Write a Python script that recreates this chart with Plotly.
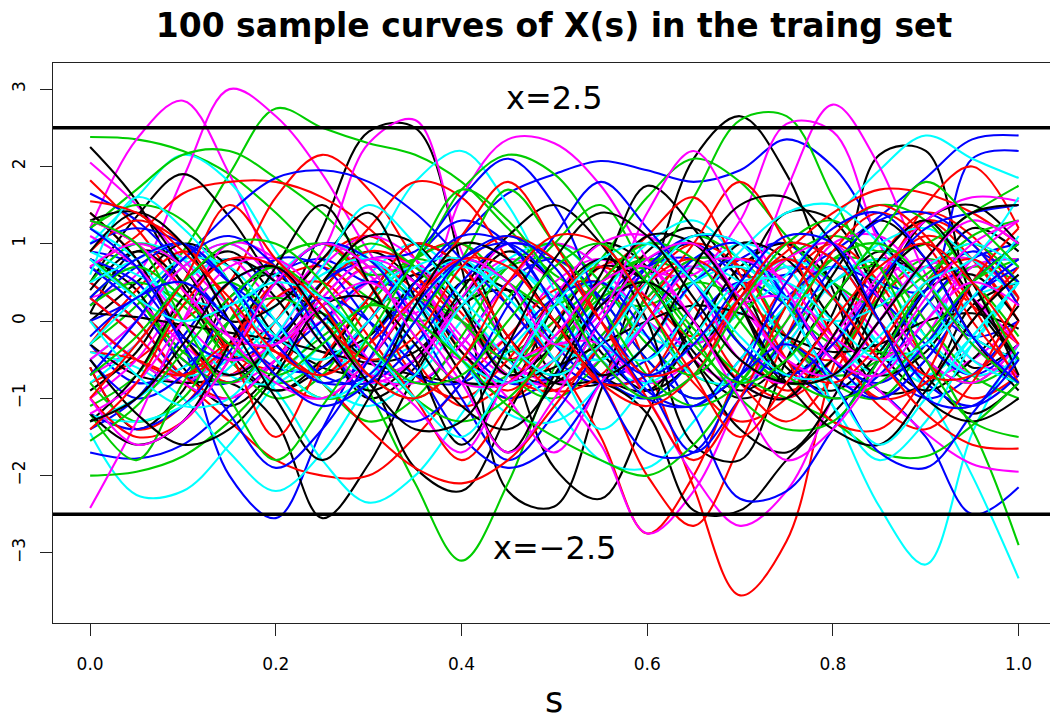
import plotly.graph_objects as go

s_grid = [round(0.05 * i, 2) for i in range(21)]

palette = ["#000000", "#FF0000", "#00CD00", "#0000FF", "#00FFFF", "#FF00FF"]

black_curves = [
    [0.1,0.9,0.7,-0.3,0.0,1.2,2.45,2.5,0.7,-2.2,-2.4,-0.9,0.6,1.0,0.2,-0.7,-0.2,0.8,0.5,-0.6,-0.3],
    [-0.6,-1.4,-0.9,0.3,0.6,-0.2,-1.0,-0.6,0.5,0.4,-0.7,-0.8,0.4,2.1,2.65,1.9,0.4,-0.9,-0.8,0.2,0.5],
    [0.8,0.4,-0.6,-1.1,-0.6,0.4,0.9,0.5,-0.4,-0.8,0.2,1.0,0.7,-0.5,-1.0,-0.7,0.1,2.15,2.2,0.3,-0.5],
    [2.25,1.55,0.45,-0.5,-0.9,-0.6,0.0,0.6,0.2,-0.6,-0.8,0.0,0.9,1.2,0.5,-0.6,-0.9,-0.4,0.4,0.6,0.0],
    [0.5,1.35,1.9,1.35,0.5,0.1,-0.5,-0.4,0.3,0.9,0.5,-0.4,-0.9,-0.5,0.5,1.4,1.3,0.3,-0.7,-1.2,-0.8],
    [-0.3,-0.7,-0.8,-0.8,-1.3,-2.55,-1.85,-0.7,0.2,0.4,0.0,-0.7,-0.9,-0.2,0.7,1.0,0.5,-0.4,-0.9,-0.5,0.2],
    [0.0,0.5,1.0,0.7,-0.2,-0.6,-0.8,-1.9,-2.2,-1.2,-0.1,0.7,0.5,-0.4,-0.9,-0.5,0.3,0.9,0.5,-0.2,-0.5],
    [-0.9,-0.4,0.5,0.9,0.3,-0.4,-0.2,0.5,0.8,-0.4,-1.9,-2.3,-1.2,0.0,1.0,0.8,0.0,-0.7,-0.4,0.5,1.0],
    [0.4,0.9,0.5,-0.4,-0.9,-0.5,0.3,1.0,0.7,-0.2,-0.8,-0.8,-1.2,-2.45,-2.45,-1.8,-1.2,-0.5,0.4,1.2,0.9],
    [0.1,0.05,-0.05,-0.15,-0.25,-0.4,-0.55,-0.7,-0.8,-0.8,-0.6,-0.3,0.0,0.2,0.1,-0.2,-0.4,-0.3,0.0,0.1,-0.1],
    [-1.3,-0.7,0.3,0.8,0.5,-0.3,-0.9,-0.5,0.4,1.1,1.5,1.0,0.0,-1.6,-1.8,-0.5,0.6,1.3,0.8,-0.2,-0.9],
    [1.4,0.8,-0.2,-0.7,-0.3,0.5,1.1,1.0,0.2,-0.7,-0.3,0.6,1.75,1.2,0.2,-0.8,-0.5,0.5,1.0,0.3,-0.5],
    [-1.2,-1.6,-1.3,-0.3,0.7,1.5,0.5,-0.5,-1.6,-0.7,0.3,0.8,0.5,-0.5,-1.4,-1.7,-1.0,0.3,1.3,1.5,1.0],
    [1.3,1.4,0.7,0.0,0.2,0.8,1.4,0.3,-0.7,-1.7,-0.7,0.2,0.5,0.0,-0.8,-1.0,-0.2,0.8,1.3,0.5,-0.7],
    [-0.5,-1.2,-1.6,-1.4,-0.7,0.2,0.3,-0.3,-1.1,-1.4,-0.8,0.3,1.1,1.0,0.2,-0.8,-1.4,-1.6,-0.9,0.0,0.6],
    [0.9,1.4,1.0,0.0,-1.0,-1.8,-1.0,0.2,1.0,0.8,0.0,-0.7,-0.3,0.7,1.5,1.6,1.0,0.0,-1.0,-1.3,-1.0],
    [-1.3,-1.0,-0.3,0.5,0.7,0.0,-0.8,-1.4,-1.3,-0.3,0.8,1.4,1.1,0.3,-0.5,-0.8,-0.7,0.0,0.8,1.4,1.5],
]

red_curves = [
    [0.8,0.3,-0.4,-0.7,0.0,0.8,1.1,0.6,-0.4,-0.9,-0.3,0.5,-0.6,-2.15,-3.55,-2.85,-0.6,0.8,1.3,0.8,0.0],
    [1.82,1.2,0.4,-0.4,-0.6,0.2,0.7,0.4,-0.5,-1.0,-0.5,0.5,1.0,0.5,-0.3,-0.9,-0.5,0.3,0.7,0.2,-0.3],
    [-0.8,-0.5,0.0,0.5,1.6,2.15,1.7,0.8,0.1,-0.5,0.0,0.7,0.8,0.2,-0.7,-1.0,-0.5,0.5,1.1,0.8,0.0],
    [0.7,1.1,1.65,1.8,1.8,1.6,1.2,0.6,0.0,-0.5,-0.2,0.5,0.7,0.0,-0.8,-1.3,-0.7,0.5,1.3,1.0,0.2],
    [-0.3,0.4,0.9,0.5,-0.3,-0.7,0.0,0.8,1.0,0.2,-0.5,-1.5,-2.75,-2.0,-0.6,0.5,1.0,0.5,-0.5,-1.0,-0.7],
    [-0.4,-0.5,-0.8,-1.3,-1.8,-2.0,-2.0,-1.5,-0.8,-0.2,0.4,0.5,0.0,-0.8,-1.3,-1.0,-0.2,0.8,1.4,1.1,0.3],
    [0.5,0.0,-0.7,-1.0,-0.5,0.4,0.9,0.7,0.0,-0.7,-0.9,-0.3,0.5,1.0,0.7,-0.2,-0.5,0.4,1.5,2.0,1.2],
    [-0.6,-1.4,-1.1,-0.3,0.5,0.7,0.2,-0.7,-1.0,-0.5,0.3,0.7,0.3,-0.2,0.4,0.9,1.4,1.7,1.65,1.4,1.0],
    [1.4,0.8,-0.2,-0.8,-0.3,0.5,1.2,1.8,1.6,0.8,0.0,-0.8,-0.7,0.2,0.8,0.5,-0.3,-1.0,-0.8,0.0,0.7],
    [0.3,-0.2,-0.7,-0.3,0.5,1.0,0.5,-0.5,-1.1,-0.8,-0.3,-0.8,-2.0,-2.65,-1.6,-0.2,0.9,1.4,1.0,0.0,-0.7],
    [1.3,1.0,0.4,-0.4,-1.5,-0.5,0.3,1.0,0.7,-0.2,-0.9,-0.7,0.2,1.0,1.8,1.0,-0.2,-1.1,-1.4,-0.8,0.3],
    [-1.0,-1.5,-1.3,-0.5,0.3,0.5,-0.2,-1.0,-1.8,-1.1,-0.3,0.5,1.1,1.6,0.6,-0.5,-1.3,-1.4,-0.7,0.5,1.2],
    [0.0,-0.5,-0.7,-0.3,-0.4,-0.8,-1.4,-1.9,-2.1,-1.8,-1.1,-0.3,0.5,0.8,0.3,-0.5,-0.8,-0.3,0.5,0.8,0.3],
    [0.9,1.3,1.0,0.2,-0.7,-1.0,-0.5,0.3,1.1,1.8,1.0,0.0,-1.0,-1.8,-1.0,0.2,1.1,1.5,1.1,0.2,-0.8],
    [-1.4,-0.8,0.2,0.8,0.7,0.0,-0.5,-0.2,0.7,1.1,0.8,0.0,-0.7,-0.5,0.3,0.8,0.3,-0.5,-1.2,-1.6,-1.65],
    [1.55,1.4,0.9,0.3,-0.4,-0.7,-0.3,0.3,0.8,0.7,0.0,-0.8,-1.1,-0.7,0.3,1.0,0.8,0.0,-0.7,-0.7,0.0],
    [-1.0,-0.3,0.5,1.5,0.8,0.2,-0.7,-1.0,-0.5,0.5,1.1,1.0,0.2,-0.7,-1.5,-0.8,0.0,0.7,1.0,0.5,-0.3],
]

green_curves = [
    [2.38,2.35,2.2,1.9,1.4,0.8,0.3,0.0,0.2,0.7,0.8,0.3,-0.5,-1.0,-0.7,0.2,0.8,0.7,-0.2,-0.8,-0.5],
    [-0.3,0.2,0.9,1.9,2.75,2.5,2.3,2.15,1.8,1.2,0.6,0.3,0.2,0.5,0.3,-0.2,-0.7,-0.5,0.2,0.7,0.5],
    [1.2,1.7,2.15,2.2,1.85,1.4,0.8,0.3,0.0,-0.4,0.0,0.5,0.8,0.5,-0.3,-0.8,-0.7,0.0,0.7,0.8,0.3],
    [0.7,0.3,-0.4,-0.7,-0.3,0.1,-0.9,-2.1,-3.1,-2.1,-0.6,0.4,0.8,0.6,-0.3,-0.8,-0.5,0.3,0.8,0.5,-0.2],
    [0.0,-0.5,-0.8,-0.3,0.5,1.0,0.7,-0.2,-0.8,-0.7,0.2,0.8,0.7,1.6,2.6,2.65,1.6,0.4,-0.5,-0.8,-0.3],
    [-2.0,-1.95,-1.75,-1.3,-0.7,-0.2,0.2,0.3,0.0,-0.7,-1.0,-0.5,0.3,0.8,0.7,-0.2,-0.8,-1.0,-0.3,0.5,0.8],
    [0.5,1.0,0.7,-0.2,-0.8,-0.5,0.3,0.8,0.5,-0.3,-0.7,-0.2,0.6,1.1,0.8,0.2,-0.3,-0.4,-0.5,-1.4,-2.9],
    [-0.8,-1.3,-1.0,0.0,0.8,1.0,0.6,0.8,1.7,2.15,1.9,1.1,0.2,-0.7,-0.8,-0.2,0.5,0.7,0.0,-0.7,-1.0],
    [0.2,0.5,0.2,-0.5,-1.0,-0.7,0.2,0.8,1.0,0.5,0.2,0.8,1.6,2.1,1.8,1.1,0.5,0.2,0.6,1.0,0.5],
    [-1.1,-0.7,0.2,0.5,0.0,-0.8,-1.3,-1.0,-0.2,0.7,1.0,0.5,-0.3,-0.7,0.0,0.8,1.1,0.9,1.0,1.4,1.75],
    [0.8,0.3,-0.5,-0.8,-0.3,0.5,1.0,0.7,0.0,-0.5,-0.3,0.3,0.5,-0.1,-0.7,-1.0,-1.3,-1.7,-1.75,-1.35,-0.8],
    [-1.2,-1.8,-0.8,0.0,0.3,0.0,-0.7,-1.0,-0.5,0.3,1.0,1.5,0.6,-0.2,-1.0,-1.4,-1.3,-0.5,0.5,1.1,1.3],
    [1.2,1.5,1.3,0.5,-0.5,-1.0,-0.8,0.0,0.8,1.7,1.0,0.2,-0.7,-1.1,-0.8,0.2,1.1,1.5,1.3,0.5,-0.5],
    [-1.55,-1.1,-0.4,0.3,0.7,0.3,-0.3,-1.0,-1.3,-1.0,-0.3,0.5,1.0,0.8,0.0,-0.7,-1.0,-0.8,-0.2,0.5,1.0],
    [0.3,0.7,0.3,-0.3,-0.7,-0.3,0.2,0.0,-0.5,-1.1,-1.5,-1.8,-2.0,-1.6,-0.8,0.0,0.8,1.0,0.5,-0.3,-0.8],
    [1.3,1.0,0.0,-1.0,-1.8,-1.1,-0.2,0.8,1.7,1.3,0.5,-0.5,-1.0,-0.7,0.2,1.0,1.3,0.7,-0.5,-1.3,-1.5],
    [-0.7,-0.2,0.5,1.0,1.0,0.5,-0.3,-0.8,-0.7,0.0,0.7,1.0,0.5,-0.3,-0.8,-0.5,0.3,1.1,1.8,1.3,0.7],
]

blue_curves = [
    [0.9,0.7,-0.3,-2.0,-2.55,-1.4,-0.3,0.4,0.8,0.5,-0.2,-0.7,-0.5,0.2,0.8,1.0,0.3,-0.5,-1.0,-0.7,0.0],
    [-0.3,-0.8,-0.6,0.0,0.6,0.8,0.5,0.6,1.1,1.65,1.9,2.07,1.95,1.8,1.95,2.35,2.0,1.1,0.3,-0.2,0.0],
    [0.5,0.0,-0.7,-0.8,-0.3,0.5,0.8,0.3,-0.5,-1.0,-0.7,0.2,0.8,1.0,0.6,0.6,0.9,1.35,1.85,2.35,2.4],
    [-1.4,-1.0,-0.2,0.5,0.7,0.2,-0.5,-0.8,-0.3,0.5,0.8,0.3,-0.5,-1.0,-0.7,0.2,0.7,0.5,0.4,2.1,2.2],
    [0.2,0.7,1.0,0.5,-0.3,-0.8,-0.5,0.3,0.8,0.5,-0.3,-0.8,-0.7,0.0,0.5,0.2,-0.5,-0.9,-1.5,-2.5,-2.15],
    [-1.7,-1.78,-1.6,-1.1,-0.5,0.0,0.5,0.3,-0.3,-0.8,-0.7,0.0,0.7,0.8,0.3,-0.5,-1.0,-0.7,0.2,0.8,1.0],
    [1.65,1.3,0.7,0.0,-0.6,-0.6,0.0,0.8,1.3,1.0,0.2,-0.7,-1.0,-0.5,0.3,1.0,0.8,0.0,-0.8,-1.1,-0.7],
    [0.0,0.3,0.8,1.4,1.85,1.95,1.8,1.4,0.8,0.2,-0.5,-0.8,-0.3,0.5,0.8,0.3,-0.5,-1.0,-0.5,0.3,0.7],
    [0.7,0.2,-0.5,-0.8,-0.3,0.5,0.8,0.9,1.6,2.1,1.5,0.2,-0.9,-1.1,-0.5,0.3,0.7,0.3,-0.3,-0.7,-0.3],
    [-0.5,-1.0,-0.7,0.2,0.8,0.7,0.0,-0.7,-0.8,-0.3,0.3,0.5,-0.2,-1.2,-2.3,-2.2,-1.4,-0.5,0.4,0.9,0.5],
    [-1.2,-1.4,-1.1,-0.4,0.5,1.0,0.8,0.0,-1.0,-1.8,-1.2,-0.3,0.7,1.1,1.0,0.2,-0.7,-1.0,-0.5,0.3,0.8],
    [0.8,0.5,-0.2,-0.5,-0.2,0.3,0.0,-0.6,-1.5,-1.9,-1.6,-0.8,0.0,0.8,1.0,0.3,-0.5,-0.8,-0.3,0.5,1.0],
    [1.0,1.2,1.0,0.5,0.0,-0.7,-0.8,-0.3,0.5,1.0,0.8,0.0,-0.8,-1.7,-1.0,-0.2,0.7,1.3,1.4,1.0,0.2],
    [-0.7,0.0,0.8,1.1,0.7,-0.2,-1.0,-1.3,-0.8,0.2,1.1,1.8,1.2,0.5,-0.3,-0.7,-0.3,0.5,1.2,1.4,1.5],
    [0.3,0.8,1.0,0.5,-0.3,-0.8,-0.7,0.2,0.8,1.0,0.5,-0.3,-1.0,-1.1,-0.7,-0.3,-0.8,-1.7,-1.9,-1.2,-0.4],
    [1.2,0.7,-0.3,-1.2,-1.9,-1.4,-0.5,0.5,1.1,1.0,0.2,-0.8,-1.7,-1.7,-0.7,0.5,1.2,1.4,0.8,-0.2,-0.8],
    [-0.2,0.3,0.5,0.0,-0.7,-1.1,-0.8,0.0,0.8,1.1,0.7,-0.2,-0.7,-0.3,0.5,1.1,1.0,0.0,-1.0,-1.1,-0.5],
]

cyan_curves = [
    [-1.45,-2.25,-2.2,-1.6,-0.8,-0.1,0.6,1.0,0.5,-0.3,-0.8,-0.5,0.3,0.8,0.7,-0.2,-0.8,-0.7,0.0,0.7,0.8],
    [1.0,1.6,2.15,1.8,0.9,0.1,-0.5,-0.3,0.3,0.7,0.2,-0.7,-1.0,-0.5,0.3,0.8,0.5,-0.3,-0.8,-0.3,0.5],
    [0.3,-0.2,-0.7,-0.5,0.2,0.6,0.9,1.8,2.2,1.5,0.4,-0.5,-0.8,-0.3,0.3,0.7,0.3,-0.3,-0.7,-0.2,0.5],
    [0.5,1.0,0.8,0.2,-0.5,-0.7,-0.2,0.5,0.8,0.5,-0.2,-0.5,0.0,0.8,1.0,0.3,-1.1,-2.4,-3.15,-1.45,-0.3],
    [-0.8,-0.3,0.5,0.8,0.5,-0.2,-0.7,-0.5,0.2,0.8,1.0,0.5,-0.2,-0.3,0.3,0.8,0.5,0.0,-0.9,-2.0,-3.33],
    [-0.5,0.0,0.7,1.0,0.5,-0.3,-0.8,-0.7,0.0,0.7,1.0,0.7,0.0,-0.3,0.1,0.6,1.3,1.95,2.4,2.1,1.85],
    [-0.4,-0.6,-1.0,-1.7,-2.2,-1.7,-0.8,0.0,0.7,0.5,-0.2,-0.7,-0.3,0.5,1.0,0.7,-0.2,-0.7,-0.3,0.3,0.5],
    [-1.3,-1.0,-0.6,-0.4,-0.9,-1.8,-2.35,-2.0,-1.2,-0.4,0.2,0.5,0.0,-0.7,-0.8,-0.3,0.5,0.8,0.5,-0.2,-0.5],
    [1.2,0.8,0.0,-0.7,-0.8,-0.3,0.3,0.7,0.2,-0.5,-1.1,-1.8,-1.9,-1.3,-0.5,0.2,0.7,0.5,-0.2,-0.7,-0.5],
    [0.9,0.6,0.3,0.2,0.6,1.0,0.8,0.2,-0.5,-0.8,-0.5,0.3,1.0,1.3,0.8,0.3,0.5,1.0,1.2,0.8,0.3],
    [-1.22,-1.3,-1.1,-0.6,0.0,0.6,0.8,0.3,-0.5,-1.2,-1.3,-0.8,0.2,0.7,0.5,-0.3,-1.1,-1.8,-1.3,-0.3,0.5],
    [0.5,0.8,1.0,0.5,-0.2,-0.5,0.0,0.7,0.8,0.3,-0.3,-0.5,0.0,0.5,0.7,0.3,0.0,0.2,0.7,1.0,0.7],
    [-0.3,0.3,0.8,0.7,0.0,-0.8,-1.1,-0.7,0.2,0.7,0.3,-0.3,-0.5,0.2,0.9,1.4,1.5,1.0,0.3,-0.5,-0.8],
    [0.6,1.6,1.2,0.5,-0.5,-1.0,-0.7,0.2,0.7,0.3,-0.5,-1.4,-0.8,-0.2,0.5,0.5,0.0,-0.5,-0.3,0.3,1.1],
    [0.0,-0.7,-1.1,-1.0,-0.2,0.7,1.5,1.0,0.3,-0.3,-0.7,-0.3,0.5,1.1,1.0,0.2,-0.8,-1.6,-1.0,-0.2,0.5],
    [0.8,0.3,0.0,0.2,0.5,0.3,-0.3,-1.0,-1.5,-0.7,0.2,0.8,1.0,0.5,-0.2,-0.7,-0.7,-0.2,0.5,0.8,1.6],
]

magenta_curves = [
    [1.2,2.35,2.85,1.9,0.6,-0.2,-0.8,-0.5,0.3,0.8,0.5,-0.3,-0.8,-0.5,0.2,0.7,0.5,-0.2,-0.7,-0.5,0.0],
    [0.3,0.6,1.85,3.0,2.65,1.9,0.9,0.1,-0.5,-0.2,0.5,0.8,0.3,-0.5,-0.8,-0.3,0.5,0.8,0.3,-0.5,-0.7],
    [2.05,1.5,0.8,0.2,-0.2,0.0,0.5,0.7,0.2,-0.5,-0.8,-0.5,0.3,0.8,0.7,-0.2,-0.8,-0.8,-0.2,0.7,0.8],
    [-0.7,-0.3,0.5,0.8,0.3,0.9,2.3,2.6,0.9,-0.3,-0.7,-0.2,0.5,0.7,0.2,-0.5,-0.7,0.0,0.7,0.8,0.3],
    [0.0,-0.5,-0.8,-0.3,0.5,1.0,0.6,0.1,1.6,2.35,2.3,1.75,0.8,0.0,-0.8,-1.0,-0.3,0.5,0.8,0.3,-0.5],
    [0.7,0.2,-0.5,-0.8,-0.5,0.2,0.7,0.5,-0.2,-0.7,-0.5,0.2,0.6,0.6,1.3,2.55,2.45,1.0,0.0,-0.7,-0.5],
    [-1.0,-0.5,0.3,0.8,0.7,0.0,-0.7,-0.8,-0.3,0.5,1.0,0.7,0.0,-0.3,0.2,1.7,2.8,2.0,0.6,-0.3,-0.8],
    [0.8,0.3,-0.3,-0.7,-0.2,0.7,1.1,0.8,0.0,-0.7,-0.9,-1.6,-2.75,-2.2,-1.0,0.0,1.0,1.1,0.5,-0.3,-0.7],
    [0.3,-0.2,-0.8,-1.0,-0.5,0.3,0.8,0.7,0.0,-0.5,-0.3,-0.3,-1.0,-2.0,-2.65,-2.2,-1.0,0.0,0.7,0.3,-0.3],
    [-0.5,0.0,0.7,1.0,0.5,-0.3,-0.8,-0.5,0.3,1.0,0.8,0.0,-0.7,-0.5,0.2,0.3,-0.3,-0.9,-1.45,-1.85,-1.95],
    [-2.42,-1.3,0.0,1.0,0.8,0.0,-0.7,-0.5,0.2,0.7,0.3,-0.5,-1.0,-0.7,0.2,0.8,1.0,0.3,-0.5,-0.8,-0.3],
    [1.1,0.7,0.0,-0.5,-0.3,0.3,0.8,0.5,-0.3,-1.0,-1.7,-0.8,0.0,0.7,0.8,0.5,-0.2,-0.5,0.0,0.8,1.3],
    [-1.2,-0.8,0.0,0.7,0.8,0.3,-0.5,-1.1,-1.7,-0.7,0.3,1.0,1.1,0.5,-0.5,-0.8,-0.2,0.6,1.3,1.6,1.55],
    [0.7,1.0,0.7,-0.2,-0.8,-1.0,-0.5,0.3,0.8,0.5,-0.3,0.1,1.4,2.2,1.3,0.4,-0.5,-0.7,0.0,0.5,0.2],
    [1.3,1.0,0.4,-0.2,-0.3,0.2,0.5,0.0,-0.8,-1.7,-1.0,0.0,0.8,1.0,0.3,-0.5,-0.7,0.0,0.8,1.3,1.0],
    [-1.0,-1.6,-1.3,-0.5,0.5,1.0,0.7,-0.2,-0.8,-0.8,-0.2,0.5,0.7,0.0,-1.0,-1.8,-1.4,-0.6,0.3,1.0,1.3],
]

groups = [black_curves, red_curves, green_curves, blue_curves, cyan_curves, magenta_curves]
n_curves = 100

x_ticks = [0.0, 0.2, 0.4, 0.6, 0.8, 1.0]
x_tick_text = ["0.0", "0.2", "0.4", "0.6", "0.8", "1.0"]
y_ticks = [-3, -2, -1, 0, 1, 2, 3]
y_tick_text = ["\u22123", "\u22122", "\u22121", "0", "1", "2", "3"]

bounds = [2.5, -2.5]
bound_labels = ["x=2.5", "x=\u22122.5"]
bound_label_y = [2.88, -2.94]

fig = go.Figure()
for k in range(n_curves):
    c = k % 6
    vals = groups[c][k // 6]
    fig.add_trace(go.Scatter(
        x=s_grid, y=vals, mode="lines",
        line=dict(color=palette[c], width=2.1, shape="spline", smoothing=1.0),
        showlegend=False, hoverinfo="skip",
    ))

for b in bounds:
    fig.add_shape(type="line", xref="paper", x0=0, x1=1, yref="y", y0=b, y1=b,
                  line=dict(color="black", width=3.5))

for lab, ly in zip(bound_labels, bound_label_y):
    fig.add_annotation(x=0.5, y=ly, xref="x", yref="y", text=lab, showarrow=False,
                       font=dict(family="DejaVu Sans", size=32, color="black"),
                       xanchor="center", yanchor="middle")

fig.add_annotation(x=(554 - 52.7) / 997.3, y=-77 / 560, xref="paper", yref="paper",
                   text="s", showarrow=False, xanchor="center", yanchor="middle",
                   font=dict(family="DejaVu Sans", size=35, color="black"))

fig.update_layout(
    width=1050, height=719,
    margin=dict(l=52.7, r=0, t=63, b=96, pad=0),
    paper_bgcolor="white", plot_bgcolor="white",
    title=dict(text="<b>100 sample curves of X(s) in the traing set</b>",
               x=554 / 1050, xref="container", xanchor="center",
               y=1 - 25 / 719, yref="container", yanchor="middle",
               font=dict(family="DejaVu Sans", size=33, color="black")),
    xaxis=dict(range=[-0.04, 1.0338], showgrid=False, zeroline=False,
               showline=True, linecolor="#222222", linewidth=1, mirror=True,
               ticks="outside", ticklen=12, tickcolor="#222222", tickwidth=1,
               tickvals=x_ticks, ticktext=x_tick_text, ticklabelstandoff=14,
               tickfont=dict(family="DejaVu Sans", size=17, color="black")),
    yaxis=dict(range=[-3.907, 3.338], showgrid=False, zeroline=False,
               showline=True, linecolor="#222222", linewidth=1,
               ticks="outside", ticklen=12, tickcolor="#222222", tickwidth=1,
               tickvals=y_ticks, ticktext=y_tick_text, tickangle=-90,
               ticklabelstandoff=8,
               tickfont=dict(family="DejaVu Sans", size=17, color="black")),
)

fig.write_html("out.html")
